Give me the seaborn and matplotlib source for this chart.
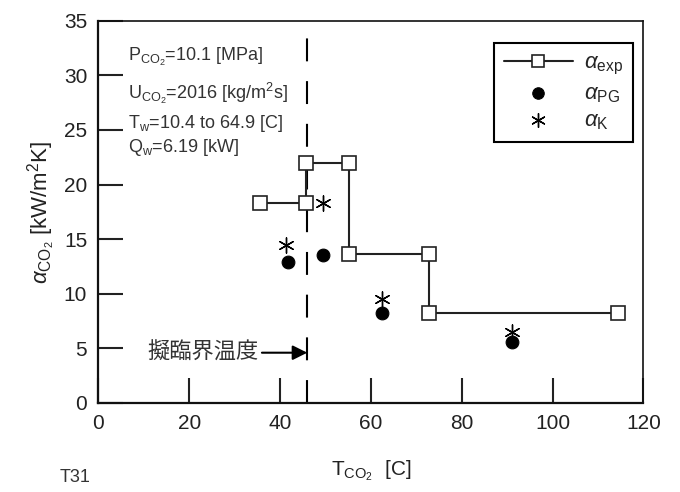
import matplotlib
matplotlib.use('Agg')
import matplotlib.pyplot as plt
import seaborn as sns

# ── data ─────────────────────────────────────────────────────────────────────
exp_T = [35.5, 45.7, 45.7, 55.1, 55.1, 72.7, 72.7, 114.5]
exp_a = [18.3, 18.3, 21.95, 21.95, 13.6, 13.6, 8.2, 8.2]

pg_T = [41.7, 49.4, 62.4, 91.0]
pg_a = [12.9, 13.55, 8.25, 5.6]

k_T = [41.3, 49.4, 62.4, 91.0]
k_a = [14.5, 18.3, 9.5, 6.5]

pseudo_crit_T = 46.0
x_ticks = [0, 20, 40, 60, 80, 100, 120]
y_ticks = [0, 5, 10, 15, 20, 25, 30, 35]

cond_lines = [
    r'P$_{\mathrm{CO_2}}$=10.1 [MPa]',
    r'U$_{\mathrm{CO_2}}$=2016 [kg/m$^2$s]',
    r'T$_{\mathrm{w}}$=10.4 to 64.9 [C]',
    r'Q$_{\mathrm{w}}$=6.19 [kW]',
]

# ── style ────────────────────────────────────────────────────────────────────
sns.set_style('ticks')
plt.rcParams['font.family'] = ['Liberation Sans', 'DejaVu Sans']
plt.rcParams['mathtext.fontset'] = 'custom'
plt.rcParams['mathtext.rm'] = 'Liberation Sans'
plt.rcParams['mathtext.it'] = 'Liberation Sans:italic'
plt.rcParams['mathtext.bf'] = 'Liberation Sans:bold'

fig = plt.figure(figsize=(6.8, 4.92), dpi=100)
ax = fig.add_axes([0.1446, 0.181, 0.8015, 0.777])

# pseudo-critical temperature line
ax.plot([pseudo_crit_T, pseudo_crit_T], [0, 35], color='black', lw=1.5,
        ls=(0, (11, 9.5)), zorder=1)

sns.lineplot(x=exp_T, y=exp_a, ax=ax, sort=False, estimator=None,
             color='#222222', lw=1.5, marker='s', markersize=10,
             markerfacecolor='white', markeredgecolor='#222222',
             markeredgewidth=1.2, label=r'$\alpha_{\mathrm{exp}}$', zorder=3)
sns.scatterplot(x=pg_T, y=pg_a, ax=ax, marker='o', s=85, color='black',
                edgecolor='black', label=r'$\alpha_{\mathrm{PG}}$', zorder=4)
sns.scatterplot(x=k_T, y=k_a, ax=ax, marker=(6, 2, 0), s=120, color='black',
                edgecolor='black', linewidth=1.0,
                label=r'$\alpha_{\mathrm{K}}$', zorder=4)

ax.set_xlim(0, 120)
ax.set_ylim(0, 35)
ax.set_xticks(x_ticks)
ax.set_yticks(y_ticks)
ax.tick_params(direction='in', length=18, width=1.5, labelsize=15, pad=8,
               colors='#222222')

for side in ['left', 'bottom']:
    ax.spines[side].set_linewidth(1.6)
for side in ['top', 'right']:
    ax.spines[side].set_linewidth(1.2)
for sp in ax.spines.values():
    sp.set_color('#111111')

ax.set_xlabel(r'T$_{\mathrm{CO_2}}$  [C]', fontsize=15, labelpad=18,
              color='#222222')
ax.set_ylabel(r'$\alpha_{\mathrm{CO_2}}$ [kW/m$^2$K]', fontsize=16,
              labelpad=4, color='#222222')

# operating conditions
for txt, yy in zip(cond_lines, [0.905, 0.811, 0.732, 0.667]):
    ax.text(0.054, yy, txt, transform=ax.transAxes, fontsize=13,
            va='center', ha='left', color='#333333')

# pseudo-critical annotation
ax.annotate('擬臨界温度', xy=(pseudo_crit_T, 4.6), xytext=(35.3, 4.6),
            fontsize=16, va='center', ha='right', color='#333333',
            family=['Noto Sans CJK JP', 'DejaVu Sans'],
            arrowprops=dict(arrowstyle='-|>', color='black', lw=1.5,
                            mutation_scale=22, shrinkA=0, shrinkB=0))

leg = ax.legend(loc='upper right', bbox_to_anchor=(0.981, 0.942),
                borderaxespad=0, fontsize=16, frameon=True, fancybox=False,
                edgecolor='black', framealpha=1, handlelength=3.1,
                borderpad=0.45, labelspacing=0.25, handletextpad=0.5,
                markerscale=0.9)
leg.get_frame().set_linewidth(1.5)

fig.text(60 / 680, 1 - 478 / 492, 'T31', fontsize=13, va='center',
         ha='left', color='#333333')

fig.savefig('out.png', dpi=100)
